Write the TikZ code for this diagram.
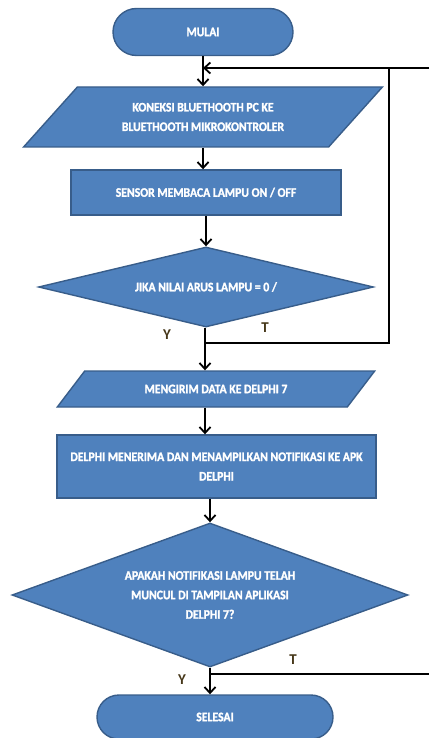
\documentclass[tikz,border=0pt]{standalone}
\usepackage{fontspec}
\setmainfont{Carlito}
\newfontfamily\boxfont[FakeStretch=0.9,BoldFeatures={FakeBold=1.5}]{Carlito}
\usetikzlibrary{shapes.geometric,shapes.misc,arrows.meta}
\definecolor{boxblue}{RGB}{79,129,189}
\definecolor{boxedge}{RGB}{56,93,138}
\definecolor{labelcol}{RGB}{70,55,25}
\begin{document}
\begin{tikzpicture}[x=1pt,y=-1pt,
  box/.style={draw=boxedge,line width=1.4pt,fill=boxblue,text=white,inner sep=0pt,
    align=center,font=\boxfont\bfseries\fontsize{13}{19.5}\selectfont},
  terminal/.style={box,rounded rectangle},
  process/.style={box,rectangle},
  io/.style={box,trapezium,trapezium stretches=true},
  decision/.style={box,diamond},
  line/.style={line width=1.8pt},
  arr/.style={line,-{Straight Barb[length=6pt,width=11pt,line width=1.8pt]}},
  yt/.style={text=labelcol,font=\bfseries\fontsize{15}{18}\selectfont}]
\useasboundingbox (0,0) rectangle (429,738);

\node[terminal,minimum width=180pt,minimum height=47pt] (mulai) at (203,32) {MULAI};
\node[io,minimum width=360pt,minimum height=60pt,
  trapezium left angle=39,trapezium right angle=141] (koneksi) at (203,117)
  {KONEKSI BLUETHOOTH PC KE\\BLUETHOOTH MIKROKONTROLER};
\node[process,minimum width=270pt,minimum height=45pt] (sensor) at (206,192.5)
  {SENSOR MEMBACA LAMPU ON / OFF};
\node[decision,minimum width=335pt,minimum height=80pt,aspect=4.2] (jika) at (206,287)
  {JIKA NILAI ARUS LAMPU = 0 /};
\node[io,minimum width=318pt,minimum height=36pt,
  trapezium left angle=30,trapezium right angle=150] (mengirim) at (216,389)
  {MENGIRIM DATA KE DELPHI 7};
\node[process,minimum width=319pt,minimum height=63pt] (delphi) at (216.5,466.5)
  {DELPHI MENERIMA DAN MENAMPILKAN NOTIFIKASI KE APK\\DELPHI};
\node[decision,minimum width=396pt,minimum height=144pt,aspect=2.75] (apakah) at (210,595)
  {APAKAH NOTIFIKASI LAMPU TELAH\\MUNCUL DI TAMPILAN APLIKASI\\DELPHI 7?};
\node[terminal,minimum width=236pt,minimum height=44pt] (selesai) at (215,717) {SELESAI};

\coordinate (jY) at (205,343);
\coordinate (loopR) at (389,68);
\coordinate (back) at (203,68);
\coordinate (edgeTop) at (429,68);
\coordinate (jT) at (211,674);
\coordinate (edgeBot) at (429,674);

\draw[arr] (mulai.south) -- (koneksi.north);
\draw[arr] (koneksi.south) -- (koneksi.south |- sensor.north);
\draw[arr] (sensor.south) -- (sensor.south |- jika.north);
\draw[line] (jika.south -| jY) -- (jY);
\draw[arr] (jY) -- (jY |- mengirim.north);
\draw[arr] (mengirim.south -| 205,0) -- (205,0 |- delphi.north);
\draw[arr] (delphi.south -| 210,0) -- (apakah.north);
\draw[arr] (apakah.south) -- (apakah.south |- selesai.north);

\draw[line] (jY) -| (loopR);
\draw[arr] (edgeTop) -- (back);
\draw[line] (jT) -- (edgeBot);

\node[yt] (y1) at (167,335) {Y};
\node[yt] (t1) at (265,328) {T};
\node[yt] (t2) at (293,660) {T};
\node[yt] (y2) at (182,680) {Y};
\end{tikzpicture}
\end{document}
